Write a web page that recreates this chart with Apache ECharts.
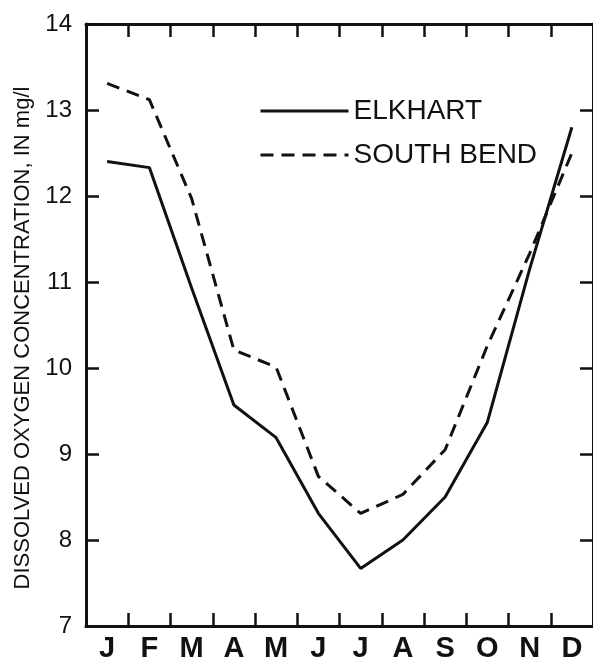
<!DOCTYPE html>
<html>
<head>
<meta charset="utf-8">
<script src="https://cdn.jsdelivr.net/npm/echarts@6/dist/echarts.min.js"></script>
<style>
html,body{margin:0;padding:0;background:#fff;}
#chart{width:593px;height:663px;}
</style>
</head>
<body>
<div id="chart"></div>
<script>
const months = ['J','F','M','A','M','J','J','A','S','O','N','D'];
const elkhart = [12.40, 12.33, 10.93, 9.57, 9.19, 8.31, 7.67, 8.00, 8.50, 9.37, 11.15, 12.80];
const southBend = [13.31, 13.12, 11.97, 10.21, 10.01, 8.74, 8.31, 8.53, 9.05, 10.26, 11.33, 12.50];
const yTitle = 'DISSOLVED OXYGEN CONCENTRATION, IN mg/l';
const seriesNames = ['ELKHART', 'SOUTH BEND'];

const ink = '#111';
const font = '"Liberation Sans", Arial, Helvetica, sans-serif';
const chart = echarts.init(document.getElementById('chart'), null, {renderer: 'canvas'});
const axisLine = {show: true, lineStyle: {color: ink, width: 3}};
const tick = {show: true, inside: true, length: 13, lineStyle: {color: ink, width: 2.5}};

chart.setOption({
  backgroundColor: '#fff',
  animation: false,
  grid: {left: 86, top: 24, width: 516, height: 602, containLabel: false},
  legend: {
    show: true,
    orient: 'vertical',
    left: 254,
    top: 91,
    itemWidth: 88,
    itemHeight: 14,
    itemGap: 14,
    data: seriesNames,
    itemStyle: {color: 'rgba(0,0,0,0)', borderColor: 'rgba(0,0,0,0)', borderWidth: 0},
    lineStyle: {width: 3, color: ink},
    textStyle: {fontFamily: font, fontSize: 28, color: ink, lineHeight: 30}
  },
  xAxis: [
    {
      type: 'category', data: months, position: 'bottom', boundaryGap: true,
      axisLine: axisLine, axisTick: tick,
      axisLabel: {fontFamily: font, fontSize: 29, fontWeight: 'bold', color: ink, margin: 8}
    },
    {
      type: 'category', data: months, position: 'top', boundaryGap: true,
      axisLine: axisLine, axisTick: tick, axisLabel: {show: false}
    }
  ],
  yAxis: [
    {
      type: 'value', min: 7, max: 14, interval: 1, position: 'left',
      axisLine: axisLine, axisTick: tick, splitLine: {show: false},
      axisLabel: {fontFamily: font, fontSize: 24, color: ink, margin: 14},
      name: yTitle, nameLocation: 'middle', nameGap: 52, nameRotate: 90,
      nameTextStyle: {fontFamily: font, fontSize: 22, color: ink, padding: [0, 26, 0, 0]}
    },
    {
      type: 'value', min: 7, max: 14, interval: 1, position: 'right',
      axisLine: axisLine, axisTick: tick, splitLine: {show: false},
      axisLabel: {show: false}
    }
  ],
  series: [
    {
      name: seriesNames[0], type: 'line', data: elkhart, symbol: 'none',
      lineStyle: {color: ink, width: 3, type: 'solid'},
      itemStyle: {color: ink}
    },
    {
      name: seriesNames[1], type: 'line', data: southBend, symbol: 'none',
      lineStyle: {color: ink, width: 3, type: [13, 8]},
      itemStyle: {color: ink}
    }
  ]
});
</script>
</body>
</html>
